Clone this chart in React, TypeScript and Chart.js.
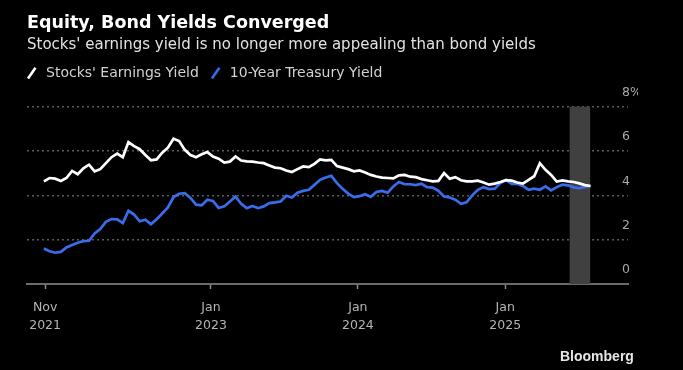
import React, { useEffect, useRef } from 'react';
import { Chart, registerables } from 'chart.js';

Chart.register(...registerables);

const titleText = 'Equity, Bond Yields Converged';
const subtitleText = "Stocks' earnings yield is no longer more appealing than bond yields";
const seriesNames = ["Stocks' Earnings Yield", '10-Year Treasury Yield'];
const seriesColors = ['#ffffff', '#3a6cec'];

// biweekly observations starting at this date
const startDate = '2021-11-12';
const stepDays = 14;

const earningsYield = [
  4.63, 4.78, 4.75, 4.65, 4.78, 5.10, 4.95, 5.22, 5.38, 5.08,
  5.18, 5.45, 5.72, 5.88, 5.72, 6.40, 6.22, 6.08, 5.82, 5.58,
  5.62, 5.92, 6.15, 6.55, 6.45, 6.05, 5.82, 5.72, 5.85, 5.95,
  5.75, 5.65, 5.48, 5.52, 5.75, 5.57, 5.53, 5.52, 5.48, 5.45,
  5.35, 5.25, 5.22, 5.12, 5.05, 5.18, 5.30, 5.27, 5.42, 5.62,
  5.58, 5.60, 5.32, 5.25, 5.18, 5.08, 5.12, 5.03, 4.92, 4.85,
  4.80, 4.78, 4.76, 4.90, 4.92, 4.84, 4.82, 4.73, 4.68, 4.63,
  4.65, 5.00, 4.75, 4.82, 4.68, 4.63, 4.63, 4.66, 4.58, 4.48,
  4.53, 4.60, 4.68, 4.66, 4.58, 4.53, 4.70, 4.86, 5.45, 5.15,
  4.92, 4.62, 4.67, 4.63, 4.60, 4.54, 4.46, 4.42,
];

const treasuryYield = [
  1.60, 1.48, 1.41, 1.45, 1.65, 1.76, 1.86, 1.93, 1.95, 2.28,
  2.48, 2.80, 2.93, 2.92, 2.75, 3.30, 3.13, 2.83, 2.90, 2.70,
  2.92, 3.18, 3.45, 3.92, 4.07, 4.10, 3.88, 3.58, 3.55, 3.80,
  3.75, 3.43, 3.50, 3.72, 3.95, 3.62, 3.42, 3.52, 3.42, 3.50,
  3.65, 3.68, 3.72, 3.98, 3.90, 4.12, 4.20, 4.25, 4.47, 4.70,
  4.80, 4.88, 4.55, 4.30, 4.08, 3.92, 3.96, 4.05, 3.93, 4.15,
  4.20, 4.12, 4.40, 4.60, 4.50, 4.50, 4.46, 4.52, 4.37, 4.35,
  4.20, 3.95, 3.90, 3.80, 3.62, 3.68, 4.00, 4.25, 4.37, 4.28,
  4.30, 4.55, 4.70, 4.52, 4.52, 4.42, 4.25, 4.30, 4.25, 4.40,
  4.22, 4.37, 4.48, 4.45, 4.36, 4.32, 4.38, 4.42,
];

const xTickDates = ['2021-11-15', '2023-01-01', '2024-01-01', '2025-01-01'];
const xTickLabels = [['Nov', '2021'], ['Jan', '2023'], ['Jan', '2024'], ['Jan', '2025']];
const yTicks = [0, 2, 4, 6, 8];
const axisStart = '2021-10-01';
const axisEnd = '2025-11-02';
const shadeStart = '2025-06-10';
const shadeEnd = '2025-07-31';

const DAY = 86400000;
const toMs = (s: string) => Date.parse(s + 'T00:00:00Z');

function makeIcon(color: string) {
  const c = document.createElement('canvas');
  c.width = 12;
  c.height = 12;
  const ctx = c.getContext('2d')!;
  ctx.strokeStyle = color;
  ctx.lineWidth = 2.6;
  ctx.beginPath();
  ctx.moveTo(3, 11.5);
  ctx.lineTo(10.5, 0.8);
  ctx.stroke();
  return c;
}

const shadePlugin = {
  id: 'shade',
  afterLayout(chart: any) {
    // let the right-hand tick labels sit just inside the plot, above their grid lines
    const y = chart.scales.y;
    if (y) y.left = chart.chartArea.right - 6;
  },
  beforeDatasetsDraw(chart: any) {
    const { ctx, scales } = chart;
    const x = scales.x;
    const y = scales.y;
    const x0 = x.getPixelForValue(toMs(shadeStart));
    const x1 = x.getPixelForValue(toMs(shadeEnd));
    const yTop = y.getPixelForValue(yTicks[yTicks.length - 1]);
    const yBot = y.getPixelForValue(0);
    ctx.save();
    ctx.fillStyle = '#404040';
    ctx.fillRect(x0, yTop, x1 - x0, yBot - yTop);
    ctx.restore();
  },
};

export default function App() {
  const ref = useRef<HTMLCanvasElement>(null);

  useEffect(() => {
    const start = toMs(startDate);
    const toPoints = (arr: number[]) => arr.map((v, i) => ({ x: start + i * stepDays * DAY, y: v }));
    const icons = seriesColors.map(makeIcon);
    const font = 'DejaVu Sans';

    const chart = new Chart(ref.current!, {
      type: 'line',
      data: {
        datasets: [
          {
            label: seriesNames[0],
            data: toPoints(earningsYield),
            borderColor: seriesColors[0],
            borderWidth: 2.7,
            pointRadius: 0,
            tension: 0,
            yAxisID: 'y',
          },
          {
            label: seriesNames[1],
            data: toPoints(treasuryYield),
            borderColor: seriesColors[1],
            borderWidth: 2.7,
            pointRadius: 0,
            tension: 0,
            yAxisID: 'y',
          },
        ],
      },
      options: {
        animation: false,
        responsive: false,
        devicePixelRatio: 1,
        layout: { padding: { left: 15, right: 45, top: 0, bottom: 26 } },
        scales: {
          x: {
            type: 'linear',
            min: toMs(axisStart),
            max: toMs(axisEnd),
            afterBuildTicks: (s: any) => {
              s.ticks = xTickDates.map((d) => ({ value: toMs(d) }));
            },
            ticks: {
              autoSkip: false,
              maxRotation: 0,
              padding: 10,
              color: '#b4b4b4',
              font: { family: font, size: 12.5, lineHeight: 1.4 },
              callback: (_v: any, i: number) => xTickLabels[i],
            },
            grid: {
              drawOnChartArea: false,
              drawTicks: true,
              tickLength: 5,
              tickColor: '#8a8a8a',
              tickWidth: 1.5,
            },
            border: { display: true, color: '#6a6a6a', width: 2 },
          },
          y: {
            type: 'linear',
            position: 'right',
            min: 0,
            max: 8.75,
            afterBuildTicks: (s: any) => {
              s.ticks = yTicks.map((v) => ({ value: v }));
            },
            afterFit: (s: any) => {
              s.width = 10;
            },
            ticks: {
              padding: 0,
              crossAlign: 'near',
              labelOffset: -14,
              color: '#a8a8a8',
              font: { family: font, size: 12.5 },
              callback: (v: any) => (v === 8 ? '8%' : String(v)),
            },
            grid: {
              drawTicks: false,
              lineWidth: 1.5,
              color: (c: any) => (c.tick && c.tick.value === 0 ? 'rgba(0,0,0,0)' : '#5a5a5a'),
            },
            border: { display: false, dash: [2, 3] },
          },
          yPad: {
            type: 'linear',
            position: 'left',
            display: true,
            ticks: { display: false },
            grid: { display: false, drawTicks: false },
            border: { display: false },
            afterFit: (s: any) => {
              s.width = 12;
            },
          },
        },
        plugins: {
          title: {
            display: true,
            text: titleText,
            align: 'start',
            fullSize: false,
            color: '#ffffff',
            font: { family: font, size: 17.5, weight: 'bold', lineHeight: 1.2 },
            padding: { top: 13, bottom: 2 },
          },
          subtitle: {
            display: true,
            text: subtitleText,
            align: 'start',
            fullSize: false,
            color: '#e2e2e2',
            font: { family: font, size: 15, lineHeight: 1.2 },
            padding: { top: 0, bottom: 4 },
          },
          legend: {
            display: true,
            position: 'top',
            align: 'start',
            fullSize: true,
            labels: {
              usePointStyle: true,
              pointStyleWidth: 16,
              padding: 8,
              color: '#d2d2d2',
              font: { family: font, size: 14 },
              generateLabels: (ch: any) =>
                ch.data.datasets.map((ds: any, i: number) => ({
                  text: ds.label,
                  pointStyle: icons[i],
                  fillStyle: seriesColors[i],
                  strokeStyle: seriesColors[i],
                  lineWidth: 0,
                  hidden: false,
                  datasetIndex: i,
                  fontColor: '#d2d2d2',
                })),
            },
          },
          tooltip: { enabled: false },
        },
      },
      plugins: [shadePlugin],
    } as any);

    return () => chart.destroy();
  }, []);

  return (
    <div
      style={{
        position: 'fixed',
        left: 0,
        top: 0,
        width: 683,
        height: 370,
        background: '#000',
        overflow: 'hidden',
      }}
    >
      <canvas ref={ref} width={683} height={370} style={{ width: 683, height: 370, display: 'block' }} />
      <div
        style={{
          position: 'absolute',
          left: 560,
          top: 348,
          fontFamily: '"Liberation Sans", Arial, sans-serif',
          fontWeight: 'bold',
          fontSize: 14,
          lineHeight: '16px',
          color: '#e6e6e6',
        }}
      >
        Bloomberg
      </div>
    </div>
  );
}
